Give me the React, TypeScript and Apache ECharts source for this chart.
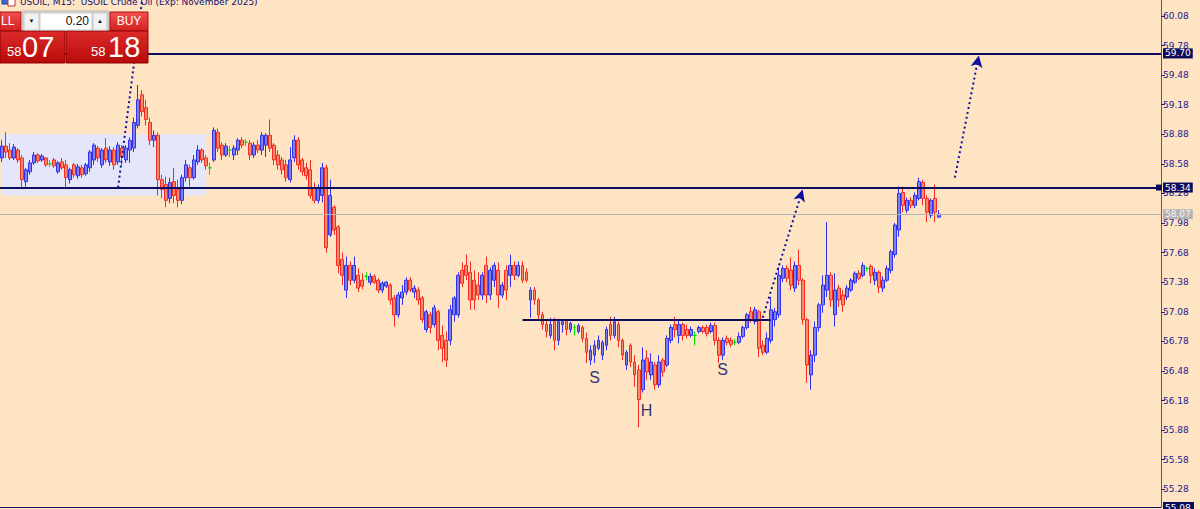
import React, { useEffect, useRef } from "react";
import * as echarts from "echarts";

const opens = [
  58.64, 58.76, 58.72, 58.64, 58.72, 58.64, 58.40, 58.50, 58.59, 58.67,
  58.62, 58.64, 58.58, 58.62, 58.50, 58.60, 58.57, 58.42, 58.57, 58.46,
  58.54, 58.48, 58.54, 58.62, 58.74, 58.57, 58.74, 58.60, 58.72, 58.60,
  58.74, 58.62, 58.72, 58.74, 58.97, 59.28, 59.15, 59.00, 58.82, 58.87,
  58.42, 58.37, 58.23, 58.40, 58.32, 58.21, 58.44, 58.54, 58.44, 58.60,
  58.72, 58.64, 58.54, 58.62, 58.90, 58.77, 58.67, 58.72, 58.67, 58.72,
  58.82, 58.80, 58.79, 58.67, 58.77, 58.72, 58.77, 58.87, 58.77, 58.67,
  58.62, 58.57, 58.42, 58.64, 58.82, 58.62, 58.54, 58.52, 58.34, 58.21,
  58.26, 58.54, 57.86, 58.14, 57.94, 57.61, 57.30, 57.55, 57.40, 57.45,
  57.40, 57.44, 57.38, 57.44, 57.40, 57.30, 57.34, 57.35, 57.22, 57.05,
  57.22, 57.28, 57.40, 57.28, 57.30, 57.22, 56.90, 57.05, 56.95, 57.08,
  56.84, 56.79, 56.79, 57.05, 57.05, 57.50, 57.55, 57.48, 57.40, 57.35,
  57.25, 57.55, 57.25, 57.40, 57.50, 57.25, 57.50, 57.45, 57.55, 57.45,
  57.55, 57.48, 57.20, 57.30, 57.20, 57.05, 56.95, 56.84, 56.98, 56.79,
  56.95, 56.98, 56.90, 56.92, 56.88, 56.92, 56.81, 56.59, 56.64, 56.71,
  56.64, 56.74, 56.95, 56.84, 56.95, 56.79, 56.54, 56.74, 56.57, 56.49,
  56.29, 56.61, 56.44, 56.54, 56.34, 56.59, 56.54, 56.79, 56.95, 56.84,
  56.95, 56.90, 56.84, 56.84, 56.88, 56.92, 56.92, 56.88, 56.94, 56.79,
  56.64, 56.81, 56.79, 56.77, 56.77, 56.83, 56.92, 57.08, 56.98, 57.08,
  56.74, 56.67, 56.79, 57.00, 57.05, 57.42, 57.52, 57.50, 57.32, 57.55,
  57.40, 57.00, 56.44, 56.64, 56.92, 57.15, 57.30, 57.45, 57.05, 57.32,
  57.25, 57.23, 57.30, 57.38, 57.47, 57.45, 57.52, 57.54, 57.40, 57.48,
  57.32, 57.40, 57.50, 57.66, 57.91, 58.29, 58.11, 58.21, 58.16, 58.23,
  58.39, 58.23, 58.06, 58.23, 58.04,
];

const closes = [
  58.76, 58.70, 58.64, 58.75, 58.62, 58.42, 58.52, 58.59, 58.67, 58.61,
  58.66, 58.57, 58.58, 58.56, 58.59, 58.54, 58.44, 58.52, 58.47, 58.55,
  58.47, 58.57, 58.70, 58.77, 58.64, 58.72, 58.62, 58.72, 58.57, 58.77,
  58.65, 58.74, 58.82, 59.00, 59.23, 59.11, 59.03, 58.82, 58.87, 58.42,
  58.32, 58.21, 58.39, 58.26, 58.21, 58.44, 58.57, 58.44, 58.62, 58.72,
  58.62, 58.56, 58.54, 58.92, 58.74, 58.67, 58.76, 58.72, 58.74, 58.82,
  58.77, 58.80, 58.67, 58.77, 58.72, 58.87, 58.87, 58.74, 58.62, 58.57,
  58.52, 58.44, 58.62, 58.82, 58.57, 58.50, 58.46, 58.26, 58.21, 58.34,
  58.54, 57.73, 58.26, 57.91, 57.55, 57.45, 57.55, 57.40, 57.55, 57.32,
  57.34, 57.44, 57.44, 57.38, 57.30, 57.37, 57.38, 57.20, 57.05, 57.25,
  57.28, 57.40, 57.30, 57.32, 57.20, 57.00, 57.08, 56.92, 57.12, 56.79,
  56.71, 56.59, 57.10, 57.22, 57.45, 57.37, 57.45, 57.20, 57.20, 57.25,
  57.45, 57.25, 57.50, 57.55, 57.25, 57.35, 57.30, 57.55, 57.45, 57.55,
  57.40, 57.40, 57.30, 57.20, 57.05, 56.95, 56.88, 56.95, 56.79, 56.98,
  56.98, 56.90, 56.96, 56.92, 56.94, 56.81, 56.67, 56.69, 56.74, 56.79,
  56.77, 56.90, 56.84, 56.98, 56.79, 56.64, 56.67, 56.57, 56.44, 56.19,
  56.59, 56.47, 56.57, 56.34, 56.57, 56.47, 56.81, 56.92, 56.90, 56.95,
  56.84, 56.84, 56.90, 56.84, 56.92, 56.88, 56.86, 56.94, 56.79, 56.64,
  56.79, 56.77, 56.75, 56.77, 56.83, 56.92, 57.05, 57.00, 57.10, 56.71,
  56.67, 56.81, 57.10, 57.08, 57.45, 57.52, 57.42, 57.35, 57.55, 57.40,
  57.00, 56.54, 56.64, 56.92, 57.15, 57.35, 57.45, 57.20, 57.30, 57.20,
  57.15, 57.32, 57.40, 57.47, 57.42, 57.55, 57.52, 57.45, 57.48, 57.33,
  57.40, 57.52, 57.69, 57.96, 58.28, 58.16, 58.21, 58.16, 58.26, 58.40,
  58.23, 58.09, 58.21, 58.09, 58.07,
];

const lows = [
  58.60, 58.64, 58.62, 58.62, 58.59, 58.34, 58.35, 58.47, 58.57, 58.59,
  58.60, 58.55, 58.55, 58.54, 58.48, 58.52, 58.33, 58.38, 58.44, 58.43,
  58.44, 58.46, 58.50, 58.57, 58.60, 58.54, 58.59, 58.56, 58.52, 58.57,
  58.56, 58.59, 58.59, 58.70, 58.94, 59.06, 58.97, 58.77, 58.75, 58.26,
  58.23, 58.14, 58.18, 58.18, 58.14, 58.17, 58.40, 58.35, 58.42, 58.57,
  58.59, 58.52, 58.47, 58.60, 58.70, 58.62, 58.65, 58.65, 58.62, 58.67,
  58.74, 58.76, 58.62, 58.64, 58.69, 58.67, 58.65, 58.70, 58.57, 58.52,
  58.47, 58.40, 58.39, 58.60, 58.52, 58.46, 58.42, 58.23, 58.18, 58.18,
  58.19, 57.68, 57.84, 57.86, 57.47, 57.35, 57.22, 57.35, 57.37, 57.28,
  57.31, 57.40, 57.35, 57.36, 57.27, 57.27, 57.32, 57.15, 56.93, 57.02,
  57.15, 57.25, 57.28, 57.22, 57.15, 56.97, 56.87, 56.86, 56.92, 56.69,
  56.57, 56.52, 56.74, 56.98, 57.02, 57.33, 57.40, 57.10, 57.10, 57.20,
  57.20, 57.17, 57.20, 57.33, 57.12, 57.22, 57.20, 57.33, 57.40, 57.43,
  57.37, 57.38, 57.02, 57.15, 57.00, 56.90, 56.82, 56.81, 56.69, 56.74,
  56.87, 56.84, 56.87, 56.84, 56.86, 56.77, 56.56, 56.54, 56.56, 56.69,
  56.59, 56.69, 56.79, 56.81, 56.72, 56.59, 56.49, 56.52, 56.32, 55.91,
  56.26, 56.39, 56.39, 56.29, 56.31, 56.42, 56.52, 56.76, 56.82, 56.76,
  56.79, 56.81, 56.82, 56.74, 56.86, 56.86, 56.83, 56.86, 56.74, 56.56,
  56.59, 56.74, 56.72, 56.74, 56.75, 56.81, 56.90, 56.97, 56.95, 56.62,
  56.64, 56.65, 56.76, 56.93, 57.02, 57.38, 57.38, 57.30, 57.28, 57.35,
  56.95, 56.36, 56.29, 56.57, 56.88, 57.07, 57.23, 57.13, 56.93, 57.13,
  57.08, 57.20, 57.28, 57.36, 57.40, 57.43, 57.49, 57.37, 57.35, 57.27,
  57.28, 57.38, 57.47, 57.63, 57.84, 58.09, 58.08, 58.13, 58.13, 58.21,
  58.16, 57.99, 58.03, 57.99, 58.03,
];

const highs = [
  58.82, 58.90, 58.79, 58.78, 58.74, 58.67, 58.54, 58.62, 58.70, 58.69,
  58.68, 58.65, 58.62, 58.64, 58.61, 58.64, 58.62, 58.54, 58.59, 58.58,
  58.57, 58.59, 58.72, 58.79, 58.76, 58.74, 58.84, 58.76, 58.75, 58.80,
  58.77, 58.77, 58.85, 59.05, 59.38, 59.33, 59.23, 59.05, 58.92, 58.90,
  58.47, 58.45, 58.44, 58.54, 58.42, 58.47, 58.62, 58.57, 58.67, 58.77,
  58.74, 58.67, 58.59, 58.95, 58.94, 58.80, 58.79, 58.76, 58.77, 58.84,
  58.85, 58.83, 58.82, 58.80, 58.82, 58.90, 58.89, 59.03, 58.79, 58.72,
  58.65, 58.62, 58.75, 58.87, 58.85, 58.64, 58.59, 58.62, 58.39, 58.37,
  58.59, 58.57, 58.42, 58.16, 57.96, 57.68, 57.64, 57.59, 57.64, 57.52,
  57.47, 57.48, 57.47, 57.46, 57.42, 57.39, 57.39, 57.37, 57.25, 57.28,
  57.35, 57.43, 57.43, 57.35, 57.33, 57.24, 57.10, 57.08, 57.15, 57.10,
  56.94, 56.88, 57.15, 57.24, 57.48, 57.58, 57.66, 57.59, 57.50, 57.48,
  57.48, 57.64, 57.53, 57.58, 57.58, 57.38, 57.55, 57.66, 57.59, 57.59,
  57.59, 57.52, 57.33, 57.33, 57.22, 57.08, 57.00, 57.02, 57.02, 57.00,
  57.00, 57.00, 56.98, 56.95, 56.96, 56.94, 56.87, 56.74, 56.79, 56.84,
  56.79, 56.93, 57.03, 57.03, 56.98, 56.81, 56.69, 56.76, 56.64, 56.54,
  56.72, 56.69, 56.66, 56.57, 56.64, 56.61, 56.84, 56.95, 57.03, 57.00,
  56.97, 56.95, 56.93, 56.88, 56.94, 56.94, 56.95, 56.97, 56.97, 56.82,
  56.82, 56.84, 56.82, 56.80, 56.87, 56.94, 57.07, 57.13, 57.13, 57.10,
  56.79, 56.87, 57.23, 57.12, 57.53, 57.55, 57.55, 57.63, 57.59, 57.71,
  57.42, 57.02, 56.69, 56.98, 57.17, 57.45, 57.99, 57.48, 57.47, 57.35,
  57.30, 57.35, 57.42, 57.49, 57.50, 57.58, 57.54, 57.56, 57.52, 57.50,
  57.44, 57.55, 57.71, 57.98, 58.35, 58.35, 58.24, 58.24, 58.29, 58.44,
  58.42, 58.26, 58.23, 58.37, 58.11,
];

// price axis
const priceTicks = [
  55.28, 55.58, 55.88, 56.18, 56.48, 56.78, 57.08, 57.38, 57.68, 57.98,
  58.28, 58.58, 58.88, 59.18, 59.48, 59.78, 60.08,
];
const priceMin = 55.1;
const priceMax = 60.242;
const slotCount = 290;

// annotations
const resistanceLevel = 59.7;
const supportLevel = 58.34;
const bidLevel = 58.07;
const bottomTag = 55.08;
const necklineLevel = 57.0;
const necklineFrom = 130;
const necklineTo = 192;
const rangeBoxFrom = 0;
const rangeBoxTo = 51;
const rangeBoxTop = 58.88;
const rangeBoxBottom = 58.26;
const arrowPaths = [
  { from: [29, 58.34], to: [35, 60.24], head: false },
  { from: [190, 57.02], to: [200, 58.32], head: true },
  { from: [238, 58.44], to: [244, 59.68], head: true },
];
const patternLabels = [
  { name: "S", at: [148, 56.41] },
  { name: "H", at: [161, 56.08] },
  { name: "S", at: [180, 56.49] },
];

const titleText = "USOIL, M15:  USOIL Crude Oil (Exp: November 2025)";
const lotText = "0.20";
const sellBig = "07";
const buyBig = "18";
const priceHead = "58";

const NAVY = "#0c0c5c";

export default function App() {
  const ref = useRef<HTMLDivElement>(null);

  useEffect(() => {
    document.body.style.margin = "0";
    if (!ref.current) return;
    const chart = echarts.init(ref.current, undefined, { renderer: "svg" });

    const categories = Array.from({ length: slotCount }, (_, i) => String(i));
    const candles = opens.map((o, i) => [o, closes[i], lows[i], highs[i]]);

    const tag = (bg: string, fg: string) => ({
      show: true,
      position: "end",
      distance: 2,
      formatter: (p: any) => Number(p.value).toFixed(2),
      backgroundColor: bg,
      color: fg,
      fontSize: 9,
      fontFamily: "DejaVu Sans",
      padding: [1, 2, 0, 2],
    });

    const markLineData: any[] = [
      {
        yAxis: resistanceLevel,
        lineStyle: { color: NAVY, width: 2, type: "solid" },
        label: tag(NAVY, "#ffffff"),
      },
      {
        yAxis: supportLevel,
        lineStyle: { color: NAVY, width: 2, type: "solid" },
        label: tag(NAVY, "#ffffff"),
      },
      {
        yAxis: bidLevel,
        lineStyle: { color: "#b4b4b4", width: 1, type: "solid" },
        label: tag("#b4b4b4", "#f4f4f4"),
      },
      [
        { coord: [necklineFrom, necklineLevel], lineStyle: { color: NAVY, width: 2, type: "solid" } },
        { coord: [necklineTo, necklineLevel] },
      ],
      ...arrowPaths.map((a) => [
        {
          coord: a.from,
          symbol: "none",
          lineStyle: { color: "#1010a0", width: 2, type: [2, 3] },
        },
        { coord: a.to, symbol: a.head ? "arrow" : "none", symbolSize: [9, 12] },
      ]),
    ];

    chart.setOption({
      animation: false,
      backgroundColor: "#ffe4c4",
      grid: { left: 0, right: 39, top: 0, bottom: 2, containLabel: false },
      xAxis: {
        type: "category",
        data: categories,
        boundaryGap: true,
        axisLine: { show: true, lineStyle: { color: NAVY, width: 1 } },
        axisTick: { show: false },
        axisLabel: { show: false },
        splitLine: { show: false },
      },
      yAxis: {
        type: "value",
        position: "right",
        min: priceMin,
        max: priceMax,
        scale: true,
        axisLine: { show: true, lineStyle: { color: "#5050a0", width: 1 } },
        axisTick: {
          show: true,
          inside: false,
          length: 4,
          customValues: priceTicks,
          lineStyle: { color: "#20208a" },
        },
        axisLabel: {
          show: true,
          customValues: priceTicks,
          margin: 2,
          color: "#20208a",
          fontSize: 9,
          fontFamily: "DejaVu Sans",
          formatter: (v: number) => v.toFixed(2),
        },
        splitLine: { show: false },
      },
      series: [
        {
          type: "candlestick",
          data: candles,
          barWidth: 3.4,
          clip: false,
          itemStyle: {
            color: "#8080e6",
            color0: "#fa8a6e",
            borderColor: "#3030f0",
            borderColor0: "#f82a20",
            borderColorDoji: "#00e000",
            borderWidth: 1,
          },
          markArea: {
            silent: true,
            itemStyle: { color: "#e6e6fa", opacity: 1 },
            data: [
              [
                { coord: [rangeBoxFrom, rangeBoxTop] },
                { coord: [rangeBoxTo, rangeBoxBottom] },
              ],
            ],
          },
          markLine: {
            silent: true,
            symbol: ["none", "none"],
            label: { show: false },
            animation: false,
            data: markLineData,
          },
          markPoint: {
            silent: true,
            symbol: "circle",
            symbolSize: 1,
            itemStyle: { color: "rgba(0,0,0,0)" },
            label: {
              show: true,
              position: "inside",
              formatter: "{b}",
              color: "#34346e",
              fontSize: 16,
              fontFamily: "Liberation Sans",
            },
            data: patternLabels.map((l) => ({ name: l.name, coord: l.at })),
          },
        },
      ],
    });

    const yBottom = chart.convertToPixel({ yAxisIndex: 0 }, priceMin) as number;
    const ySupport = chart.convertToPixel({ yAxisIndex: 0 }, supportLevel) as number;
    const grad = (a: string, b: string) =>
      new echarts.graphic.LinearGradient(0, 0, 0, 1, [
        { offset: 0, color: a },
        { offset: 1, color: b },
      ]);

    chart.setOption({
      graphic: [
        // title icon
        { type: "rect", z: 100, shape: { x: 2, y: -4, width: 7, height: 8 }, style: { fill: "#3a6fd8", stroke: "#1a3a8a" } },
        { type: "rect", z: 100, shape: { x: 8, y: -2, width: 7, height: 8 }, style: { fill: "#ffffff", stroke: "#c03030" } },
        {
          type: "text",
          z: 100,
          x: 20,
          y: 6,
          style: {
            text: titleText,
            fill: "#101070",
            fontSize: 9,
            fontFamily: "DejaVu Sans",
            verticalAlign: "bottom",
          },
        },
        // support tag marker
        { type: "rect", z: 100, shape: { x: 1156, y: ySupport - 3, width: 6, height: 6 }, style: { fill: NAVY } },
        // SELL (cut off)
        { type: "rect", z: 100, shape: { x: 0, y: 12, width: 21, height: 19 }, style: { fill: grad("#f05050", "#d42020"), stroke: "#b01010" } },
        { type: "text", z: 101, x: 1, y: 21, style: { text: "LL", fill: "#ffffff", fontSize: 12, fontFamily: "Liberation Sans", verticalAlign: "middle" } },
        // lot control
        { type: "rect", z: 100, shape: { x: 22, y: 11, width: 87, height: 21 }, style: { fill: "#d6d6d6", stroke: "#b8b8b8" } },
        { type: "rect", z: 101, shape: { x: 24, y: 13, width: 15, height: 17 }, style: { fill: "#f2f2f2", stroke: "#c8c8c8" } },
        { type: "rect", z: 101, shape: { x: 40, y: 13, width: 52, height: 17 }, style: { fill: "#ffffff", stroke: "#c8c8c8" } },
        { type: "rect", z: 101, shape: { x: 93, y: 13, width: 14, height: 17 }, style: { fill: "#f2f2f2", stroke: "#c8c8c8" } },
        { type: "text", z: 102, x: 31.5, y: 21, style: { text: "▼", fill: "#111111", fontSize: 6, align: "center", verticalAlign: "middle" } },
        { type: "text", z: 102, x: 100, y: 21, style: { text: "▲", fill: "#111111", fontSize: 6, align: "center", verticalAlign: "middle" } },
        { type: "text", z: 102, x: 89, y: 21, style: { text: lotText, fill: "#111111", fontSize: 12, fontFamily: "Liberation Sans", align: "right", verticalAlign: "middle" } },
        // BUY
        { type: "rect", z: 100, shape: { x: 110, y: 12, width: 38, height: 19 }, style: { fill: grad("#f05050", "#d42020"), stroke: "#b01010" } },
        { type: "text", z: 101, x: 129, y: 21, style: { text: "BUY", fill: "#ffffff", fontSize: 12, fontFamily: "Liberation Sans", align: "center", verticalAlign: "middle" } },
        // big price boxes
        { type: "rect", z: 100, shape: { x: 0, y: 31, width: 65, height: 32 }, style: { fill: grad("#dc2a2a", "#b80a0a"), stroke: "#900000" } },
        { type: "rect", z: 100, shape: { x: 66, y: 31, width: 82, height: 32 }, style: { fill: grad("#dc2a2a", "#b80a0a"), stroke: "#900000" } },
        { type: "text", z: 101, x: 7, y: 58, style: { text: priceHead, fill: "#ffffff", fontSize: 13, fontFamily: "Liberation Sans", verticalAlign: "bottom" } },
        { type: "text", z: 101, x: 22, y: 61, style: { text: sellBig, fill: "#ffffff", fontSize: 29, fontFamily: "Liberation Sans", verticalAlign: "bottom" } },
        { type: "text", z: 101, x: 91, y: 58, style: { text: priceHead, fill: "#ffffff", fontSize: 13, fontFamily: "Liberation Sans", verticalAlign: "bottom" } },
        { type: "text", z: 101, x: 108, y: 61, style: { text: buyBig, fill: "#ffffff", fontSize: 29, fontFamily: "Liberation Sans", verticalAlign: "bottom" } },
        // bottom price tag
        { type: "rect", z: 100, shape: { x: 1163, y: yBottom - 5, width: 31, height: 12 }, style: { fill: NAVY } },
        { type: "text", z: 101, x: 1165, y: yBottom + 1, style: { text: bottomTag.toFixed(2), fill: "#ffffff", fontSize: 9, fontFamily: "DejaVu Sans", verticalAlign: "middle" } },
      ],
    });

    return () => chart.dispose();
  }, []);

  return <div ref={ref} style={{ width: 1200, height: 509 }} />;
}
